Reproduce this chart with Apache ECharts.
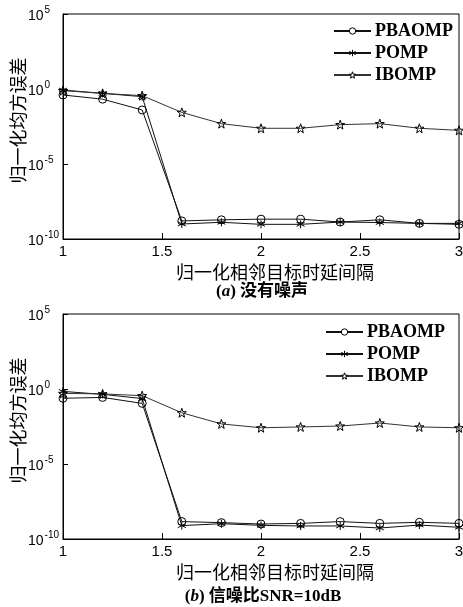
<!DOCTYPE html>
<html>
<head>
<meta charset="utf-8">
<script src="https://cdn.jsdelivr.net/npm/echarts@6/dist/echarts.min.js"></script>
<style>
  html, body { margin: 0; padding: 0; background: #fff; }
  #main { width: 463px; height: 607px; }
</style>
</head>
<body>
<div id="main"></div>
<script>
// 横轴：归一化相邻目标时延间隔
var xVals = [1, 1.2, 1.4, 1.6, 1.8, 2, 2.2, 2.4, 2.6, 2.8, 3];
var seriesNames = ["PBAOMP", "POMP", "IBOMP"];

// (a) 没有噪声
var pbaompA = [0.4, 0.21, 0.04, 1.6e-9, 1.9e-9, 2.1e-9, 2.1e-9, 1.35e-9, 1.9e-9, 1.1e-9, 9.5e-10];
var pompA = [0.85, 0.51, 0.31, 1.0e-9, 1.3e-9, 9.5e-10, 9.5e-10, 1.35e-9, 1.25e-9, 1.1e-9, 1.1e-9];
var ibompA = [0.78, 0.51, 0.36, 0.0275, 4.9e-3, 2.4e-3, 2.4e-3, 4.2e-3, 4.9e-3, 2.4e-3, 1.75e-3];

// (b) 信噪比SNR=10dB
var pbaompB = [0.24, 0.275, 0.11, 1.45e-9, 1.23e-9, 1.0e-9, 1.1e-9, 1.45e-9, 1.1e-9, 1.3e-9, 1.1e-9];
var pompB = [0.69, 0.44, 0.23, 7.8e-10, 1.05e-9, 8.1e-10, 7.4e-10, 7.4e-10, 5.4e-10, 8.5e-10, 6.0e-10];
var ibompB = [0.51, 0.47, 0.36, 0.026, 4.7e-3, 2.6e-3, 2.95e-3, 3.4e-3, 5.4e-3, 2.95e-3, 2.6e-3];

var myChart = echarts.init(document.getElementById("main"));

function pairs(vals) {
  return xVals.map(function (x, i) { return [x, vals[i]]; });
}

var symbols = {
  PBAOMP: "circle",
  POMP: "path://M0,-5L0,5M-4.33,-2.5L4.33,2.5M-4.33,2.5L4.33,-2.5",
  IBOMP: "path://M0,-10L2.35,-3.24L9.51,-3.09L3.8,1.24L5.88,8.09L0,4L-5.88,8.09L-3.8,1.24L-9.51,-3.09L-2.35,-3.24Z"
};
var symbolSizes = { PBAOMP: 8, POMP: 8, IBOMP: 9 };
var lineColors = { PBAOMP: "#111", POMP: "#111", IBOMP: "#333" };

function makeSeries(name, vals, idx) {
  return {
    name: name,
    type: "line",
    xAxisIndex: idx,
    yAxisIndex: idx,
    data: pairs(vals),
    symbol: symbols[name],
    symbolSize: symbolSizes[name],
    showAllSymbol: true,
    lineStyle: { color: lineColors[name], width: 1 },
    itemStyle: {
      color: name === "POMP" ? "#000" : "rgba(255,255,255,0)",
      borderColor: "#000",
      borderWidth: 1
    },
    emphasis: { disabled: true },
    animation: false
  };
}

function xAxis(idx) {
  return {
    gridIndex: idx,
    type: "value",
    min: 1,
    max: 3,
    interval: 0.5,
    name: "归一化相邻目标时延间隔",
    nameLocation: "middle",
    nameGap: 24,
    nameMoveOverlap: false,
    nameTextStyle: { fontSize: 18, color: "#000", fontFamily: "Noto Sans CJK SC", padding: [0, 0, 0, 28] },
    axisLine: { lineStyle: { color: "#000", width: 1 } },
    axisTick: { inside: true, length: 6, lineStyle: { color: "#000" } },
    axisLabel: { fontSize: 15, color: "#000", fontFamily: "Liberation Sans", margin: 5 },
    splitLine: { show: false }
  };
}

function yAxis(idx) {
  return {
    gridIndex: idx,
    type: "log",
    logBase: 10,
    min: 1e-10,
    max: 1e5,
    interval: 5,
    name: "归一化均方误差",
    nameLocation: "middle",
    nameGap: 36,
    nameRotate: 90,
    nameMoveOverlap: false,
    nameTextStyle: { fontSize: 18, color: "#000", fontFamily: "Noto Sans CJK SC", padding: [0, 0, 0, 12] },
    axisLine: { lineStyle: { color: "#000", width: 1 } },
    axisTick: { inside: true, length: 5, lineStyle: { color: "#000" } },
    axisLabel: {
      align: "left",
      margin: 35,
      color: "#000",
      formatter: function (v) {
        var e = Math.round(Math.log10(v));
        return "{b|10}{s|" + e + "}";
      },
      rich: {
        b: { fontSize: 14, fontFamily: "Liberation Sans", color: "#000", verticalAlign: "bottom" },
        s: { fontSize: 10, fontFamily: "Liberation Sans", color: "#000", verticalAlign: "top", padding: [0, 0, 8, 1] }
      }
    },
    splitLine: { show: false }
  };
}

function legend(left, top) {
  return {
    data: seriesNames.map(function (n) {
      return { name: n, itemStyle: { color: n === "POMP" ? "#000" : "#fff", borderColor: "#000", borderWidth: 1 } };
    }),
    orient: "vertical",
    left: left,
    top: top,
    itemWidth: 37,
    itemHeight: 8,
    itemGap: 4,
    padding: 0,
    selectedMode: false,
    textStyle: { fontSize: 18, fontWeight: "bold", fontFamily: "Liberation Serif", color: "#000", padding: [0, 0, 0, -1] }
  };
}

var option = {
  backgroundColor: "#fff",
  animation: false,
  grid: [
    { left: 63, top: 14, width: 396, height: 225, show: true, borderColor: "#000", borderWidth: 1, containLabel: false, outerBoundsMode: "none" },
    { left: 63, top: 314, width: 396, height: 225, show: true, borderColor: "#000", borderWidth: 1, containLabel: false, outerBoundsMode: "none" }
  ],
  legend: [legend(333, 22), legend(325, 323)],
  xAxis: [xAxis(0), xAxis(1)],
  yAxis: [yAxis(0), yAxis(1)],
  series: [
    makeSeries("PBAOMP", pbaompA, 0),
    makeSeries("POMP", pompA, 0),
    makeSeries("IBOMP", ibompA, 0),
    makeSeries("PBAOMP", pbaompB, 1),
    makeSeries("POMP", pompB, 1),
    makeSeries("IBOMP", ibompB, 1)
  ],
  graphic: [
    {
      type: "text",
      x: 262,
      y: 292,
      style: {
        text: "({i|a}) 没有噪声",
        font: "bold 17px 'Liberation Serif', 'Noto Sans CJK SC'",
        fill: "#000",
        align: "center",
        verticalAlign: "middle",
        rich: { i: { fontStyle: "italic", fontWeight: "bold", fontSize: 17, fontFamily: "Liberation Serif" } }
      }
    },
    {
      type: "text",
      x: 263,
      y: 597,
      style: {
        text: "({i|b}) 信噪比SNR=10dB",
        font: "bold 17px 'Liberation Serif', 'Noto Sans CJK SC'",
        fill: "#000",
        align: "center",
        verticalAlign: "middle",
        rich: { i: { fontStyle: "italic", fontWeight: "bold", fontSize: 17, fontFamily: "Liberation Serif" } }
      }
    }
  ]
};

myChart.setOption(option);
</script>
</body>
</html>
